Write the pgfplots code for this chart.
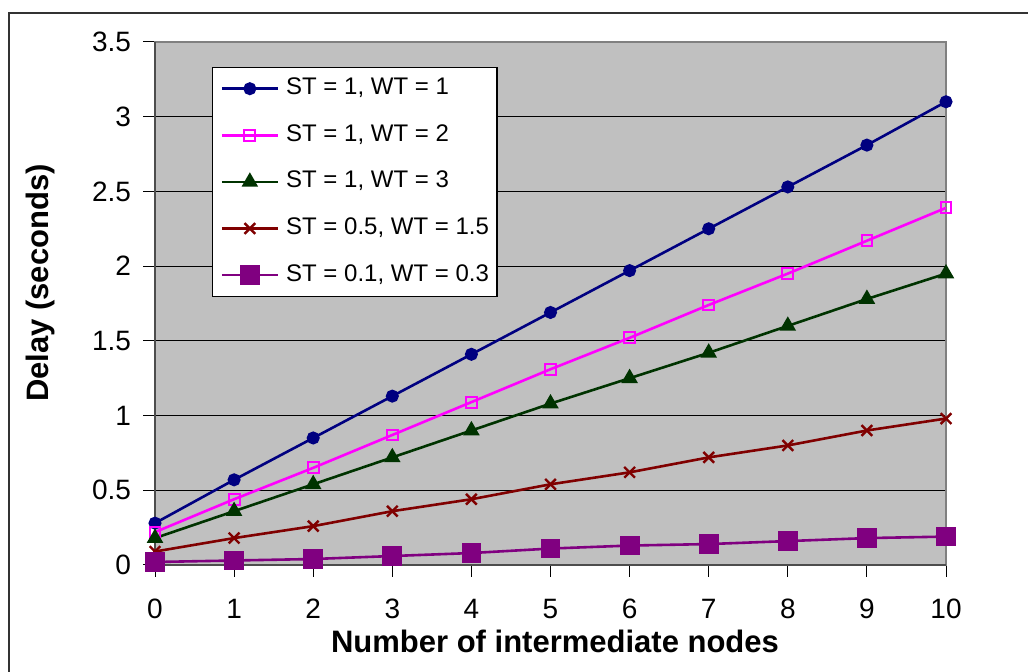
\documentclass[border=0pt]{standalone}
\usepackage{pgfplots}
\pgfplotsset{compat=1.18}
\usepackage{fontspec}
\setmainfont{Liberation Sans}

\definecolor{plotbg}{HTML}{C0C0C0}
\definecolor{sNavy}{HTML}{000080}
\definecolor{sPink}{HTML}{FF00FF}
\definecolor{sGreen}{HTML}{003300}
\definecolor{sRed}{HTML}{800000}
\definecolor{sPurple}{HTML}{800080}
\definecolor{frameGray}{HTML}{808080}
\definecolor{axisDark}{HTML}{4D4D4D}

\begin{document}
\begin{tikzpicture}
\useasboundingbox (0pt,0pt) rectangle (514pt,336pt);
% outer chart frame (left and top edges)
\draw[line width=1pt, color=black!80] (4.5pt,0pt) -- (4.5pt,329.5pt) -- (514pt,329.5pt);

\begin{axis}[
  at={(77.5pt,53.5pt)}, anchor=south west,
  scale only axis, width=395.5pt, height=261.5pt,
  xmin=0, xmax=10, ymin=0, ymax=3.5,
  xtick={0,1,...,10},
  ytick={0,0.5,1,1.5,2,2.5,3,3.5},
  yticklabels={0,0.5,1,1.5,2,2.5,3,3.5},
  tick pos=left,
  tick align=outside,
  major tick length=6pt,
  tick style={black, line width=0.5pt},
  ymajorgrids, major grid style={black, line width=0.5pt},
  axis background/.style={fill=plotbg},
  axis line style={frameGray, line width=1pt},
  clip=false,
  /pgf/number format/assume math mode=true,
  ticklabel style={font=\fontsize{14}{16}\selectfont},
  yticklabel style={anchor=east, xshift=-2.5pt},
  xticklabel style={anchor=north, yshift=-7.5pt},
  legend cell align=left,
  legend style={
    at={(0.072,0.952)}, anchor=north west,
    draw=black, line width=0.6pt, fill=white,
    inner xsep=4pt, inner ysep=4.5pt,
    font=\fontsize{12}{14}\selectfont,
    row sep=11.3pt, column sep=3.5pt,
    nodes={inner sep=0pt, text height=9pt, text depth=3pt},
  },
  legend image code/.code={%
    \draw[mark repeat=2, mark phase=2] plot coordinates {(0pt,0pt) (14pt,0pt) (28pt,0pt)};
  },
  every axis plot/.append style={line width=1.3pt},
]
\addplot[sNavy, mark=*, mark size=2.6pt, mark options={fill=sNavy, solid}] coordinates {
  (0,0.28) (1,0.57) (2,0.85) (3,1.13) (4,1.41) (5,1.69) (6,1.97) (7,2.25) (8,2.53) (9,2.81) (10,3.10)};
\addlegendentry{ST = 1, WT = 1}
\addplot[sPink, mark=square, mark size=2.7pt, mark options={line width=1pt, solid}] coordinates {
  (0,0.22) (1,0.44) (2,0.65) (3,0.87) (4,1.09) (5,1.31) (6,1.52) (7,1.74) (8,1.95) (9,2.17) (10,2.39)};
\addlegendentry{ST = 1, WT = 2}
\addplot[sGreen, mark=triangle*, mark size=3.5pt, mark options={fill=sGreen, solid}] coordinates {
  (0,0.18) (1,0.36) (2,0.54) (3,0.72) (4,0.90) (5,1.08) (6,1.25) (7,1.42) (8,1.60) (9,1.78) (10,1.95)};
\addlegendentry{ST = 1, WT = 3}
\addplot[sRed, mark=x, mark size=3.8pt, mark options={line width=1.2pt, solid}] coordinates {
  (0,0.09) (1,0.18) (2,0.26) (3,0.36) (4,0.44) (5,0.54) (6,0.62) (7,0.72) (8,0.80) (9,0.90) (10,0.98)};
\addlegendentry{ST = 0.5, WT = 1.5}
\addplot[sPurple, mark=square*, mark size=4.3pt, mark options={fill=sPurple, solid}] coordinates {
  (0,0.02) (1,0.03) (2,0.04) (3,0.06) (4,0.08) (5,0.11) (6,0.13) (7,0.14) (8,0.16) (9,0.18) (10,0.19)};
\addlegendentry{ST = 0.1, WT = 0.3}

% darker value and category axis lines
\draw[axisDark, line width=1.2pt] (rel axis cs:0,1) -- (rel axis cs:0,0) -- (rel axis cs:1,0);
\end{axis}

\node[rotate=90, font=\fontsize{15.5}{18}\selectfont\bfseries] at (20pt,194.5pt) {Delay (seconds)};
\node[font=\fontsize{15.5}{18}\selectfont\bfseries] at (277.5pt,15.5pt) {Number of intermediate nodes};
\end{tikzpicture}
\end{document}
